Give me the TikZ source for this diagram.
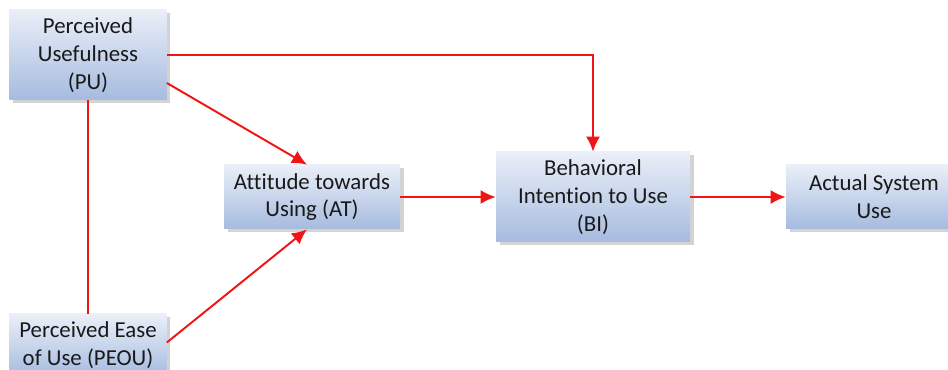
\documentclass[tikz,border=0pt]{standalone}
\usepackage{fontspec}
\setmainfont{Carlito}[Ligatures=NoCommon]
\usetikzlibrary{arrows.meta,shadows}
\definecolor{boxtop}{RGB}{234,239,248}
\definecolor{boxbot}{RGB}{166,187,223}
\definecolor{linkred}{RGB}{240,20,20}
\begin{document}
\begin{tikzpicture}[auto,node distance=5.62cm, >={Latex[length=3mm,width=2.8mm]}]
				\tikzstyle{box}=[rectangle, top color=boxtop, bottom color=boxbot, align=center, inner sep=0pt,
					text=black!90, font=\fontsize{13}{15.8}\selectfont,
					drop shadow={shadow xshift=0.7mm, shadow yshift=-0.7mm, opacity=0.35}]
				\tikzstyle{link}=[draw=linkred, line width=1.1pt]
				\useasboundingbox (0,0) rectangle (18.96,-7.4);
				%Left Column
				\node[box, minimum width=3.14cm, minimum height=1.8cm](pu) at (1.76,-1.1){Perceived\\Usefulness\\(PU)};
				\node[box, minimum width=3.14cm, minimum height=1.26cm](peou) at (1.76,-6.91){Perceived Ease\\of Use (PEOU)};
				%Middle Row
				\node[box, minimum width=3.52cm, minimum height=1.28cm](at) at (6.24,-3.94){Attitude towards\\Using (AT)};
				\node[box, minimum width=3.88cm, minimum height=1.8cm](bi)[right of = at]{Behavioral\\Intention to Use\\(BI)};
				\node[box, minimum width=3.52cm, minimum height=1.28cm](asu)[right of = bi]{Actual System\\Use};
				%Links
				\draw[link] (pu.south) -- (peou.north);
				\draw[link, ->] (pu.east) -| (bi.north);
				\draw[link, ->] ([yshift=-0.56cm]pu.east) -- ([xshift=-0.1cm]at.north);
				\draw[link, ->] ([yshift=0.06cm]peou.east) -- ([xshift=-0.1cm]at.south);
				\draw[link, ->] (at) -- (bi);
				\draw[link, ->] (bi) -- (asu);
				\end{tikzpicture}
\end{document}
